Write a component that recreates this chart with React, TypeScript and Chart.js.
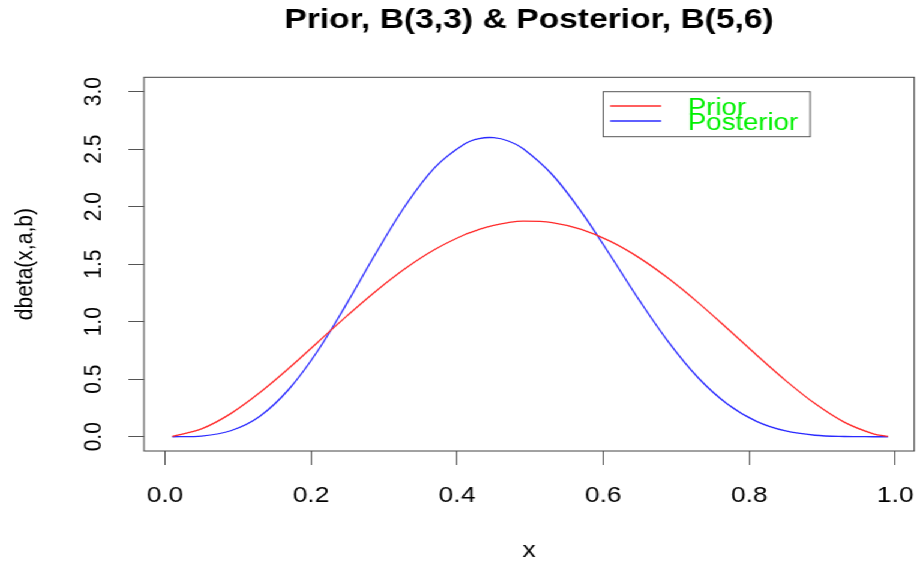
import React, { useEffect, useRef } from "react";
import { Chart, registerables } from "chart.js";

Chart.register(...registerables);

// ---- data ----
const xValues = [
  0.01, 0.05, 0.09, 0.13, 0.17, 0.21, 0.25, 0.29, 0.33, 0.37, 0.41, 0.43, 0.45,
  0.47, 0.49, 0.53, 0.57, 0.61, 0.65, 0.69, 0.73, 0.77, 0.81, 0.85, 0.89, 0.93,
  0.97, 0.99,
];
const priorValues = [
  0.003, 0.068, 0.201, 0.384, 0.597, 0.826, 1.055, 1.272, 1.467, 1.630, 1.756,
  1.802, 1.838, 1.862, 1.874, 1.862, 1.802, 1.698, 1.553, 1.373, 1.166, 0.941,
  0.711, 0.488, 0.288, 0.127, 0.025, 0.003,
];
const posteriorValues = [
  0.0, 0.006, 0.052, 0.179, 0.415, 0.754, 1.168, 1.608, 2.017, 2.344, 2.545,
  2.592, 2.600, 2.571, 2.506, 2.280, 1.955, 1.574, 1.181, 0.818, 0.513, 0.285,
  0.134, 0.050, 0.013, 0.002, 0.0, 0.0,
];
const xTicks = [0, 0.2, 0.4, 0.6, 0.8, 1.0];
const yTicks = [0, 0.5, 1.0, 1.5, 2.0, 2.5, 3.0];
const seriesNames = ["Prior", "Posterior"];
const titleText = "Prior, B(3,3) & Posterior, B(5,6)";
const xTitle = "x";
const yTitle = "dbeta(x,a,b)";

// ---- layout / style ----
const FONT = "'Liberation Sans', Arial, Helvetica, sans-serif";
const W = 764;
const H = 564;
const STRETCH = 917 / W;
const RED = "#ff2a2a";
const BLUE = "#2a2aff";

const zeroPadding = (s: any) => {
  s.paddingLeft = 0;
  s.paddingRight = 0;
  s.paddingTop = 0;
  s.paddingBottom = 0;
};

const framePlugin = {
  id: "frame",
  afterDraw(chart: any) {
    const { ctx, chartArea: a } = chart;
    ctx.save();
    ctx.strokeStyle = "#444";
    ctx.lineWidth = 1;
    ctx.strokeRect(a.left, a.top, a.right - a.left, a.bottom - a.top);

    // legend box
    const lx = 502.5, ly = 91.7, lw = 172.5, lh = 45;
    ctx.strokeStyle = "#555";
    ctx.strokeRect(lx, ly, lw, lh);
    const colors = [RED, BLUE];
    const rows = [106, 121];
    const baselines = [114.5, 130];
    ctx.lineWidth = 1.3;
    for (let i = 0; i < seriesNames.length; i++) {
      ctx.strokeStyle = colors[i];
      ctx.beginPath();
      ctx.moveTo(508.3, rows[i]);
      ctx.lineTo(550.8, rows[i]);
      ctx.stroke();
    }
    ctx.fillStyle = "#00f000";
    ctx.font = `23px ${FONT}`;
    ctx.textAlign = "left";
    ctx.textBaseline = "alphabetic";
    for (let i = 0; i < seriesNames.length; i++) {
      ctx.fillText(seriesNames[i], 573, baselines[i]);
    }
    ctx.restore();
  },
};

export default function App() {
  const ref = useRef<HTMLCanvasElement | null>(null);

  useEffect(() => {
    if (!ref.current) return;
    const chart = new Chart(ref.current, {
      type: "line",
      data: {
        datasets: [
          {
            label: seriesNames[0],
            data: xValues.map((x, i) => ({ x, y: priorValues[i] })),
            borderColor: RED,
            borderWidth: 1.3,
            pointRadius: 0,
            tension: 0.35,
            fill: false,
          },
          {
            label: seriesNames[1],
            data: xValues.map((x, i) => ({ x, y: posteriorValues[i] })),
            borderColor: BLUE,
            borderWidth: 1.3,
            pointRadius: 0,
            tension: 0.35,
            fill: false,
          },
        ],
      },
      options: {
        animation: false,
        responsive: false,
        devicePixelRatio: 1,
        layout: { padding: { left: 0, right: 2.3, top: 0, bottom: 0 } },
        plugins: {
          legend: { display: false },
          tooltip: { enabled: false },
          title: {
            display: true,
            text: titleText,
            fullSize: false,
            color: "#000",
            font: { family: FONT, size: 28, weight: "bold" },
            padding: { top: 3.2, bottom: 40.5 },
          },
        },
        scales: {
          x: {
            type: "linear",
            position: "bottom",
            min: -0.02877,
            max: 1.026,
            afterBuildTicks: (s: any) => {
              s.ticks = xTicks.map((v) => ({ value: v }));
            },
            afterFit: (s: any) => {
              s.height = 113;
              zeroPadding(s);
            },
            grid: {
              drawOnChartArea: false,
              drawTicks: true,
              tickLength: 14,
              color: "#555",
              tickColor: "#555",
            },
            border: { display: false },
            ticks: {
              autoSkip: false,
              minRotation: 0,
              maxRotation: 0,
              padding: 18,
              color: "#000",
              font: { family: FONT, size: 22 },
              callback: (v: any) => Number(v).toFixed(1),
            },
            title: {
              display: true,
              text: xTitle,
              color: "#000",
              font: { family: FONT, size: 22 },
              padding: { top: 0, bottom: 0 },
            },
          },
          y: {
            type: "linear",
            min: -0.124,
            max: 3.125,
            afterBuildTicks: (s: any) => {
              s.ticks = yTicks.map((v) => ({ value: v }));
            },
            afterFit: (s: any) => {
              s.width = 120;
              zeroPadding(s);
            },
            grid: {
              drawOnChartArea: false,
              drawTicks: true,
              tickLength: 13,
              color: "#555",
              tickColor: "#555",
            },
            border: { display: false },
            ticks: {
              autoSkip: false,
              minRotation: 90,
              maxRotation: 90,
              crossAlign: "center",
              padding: 14,
              color: "#000",
              font: { family: FONT, size: 21 },
              callback: (v: any) => Number(v).toFixed(1),
            },
            title: {
              display: true,
              text: yTitle,
              color: "#000",
              font: { family: FONT, size: 21 },
              padding: { top: 9, bottom: 0 },
            },
          },
        },
      } as any,
      plugins: [framePlugin],
    });
    return () => chart.destroy();
  }, []);

  return (
    <div
      style={{
        position: "absolute",
        left: 0,
        top: 0,
        width: W,
        height: H,
        transform: `scaleX(${STRETCH})`,
        transformOrigin: "0 0",
        background: "#fff",
      }}
    >
      <canvas ref={ref} width={W} height={H} style={{ display: "block" }} />
    </div>
  );
}
